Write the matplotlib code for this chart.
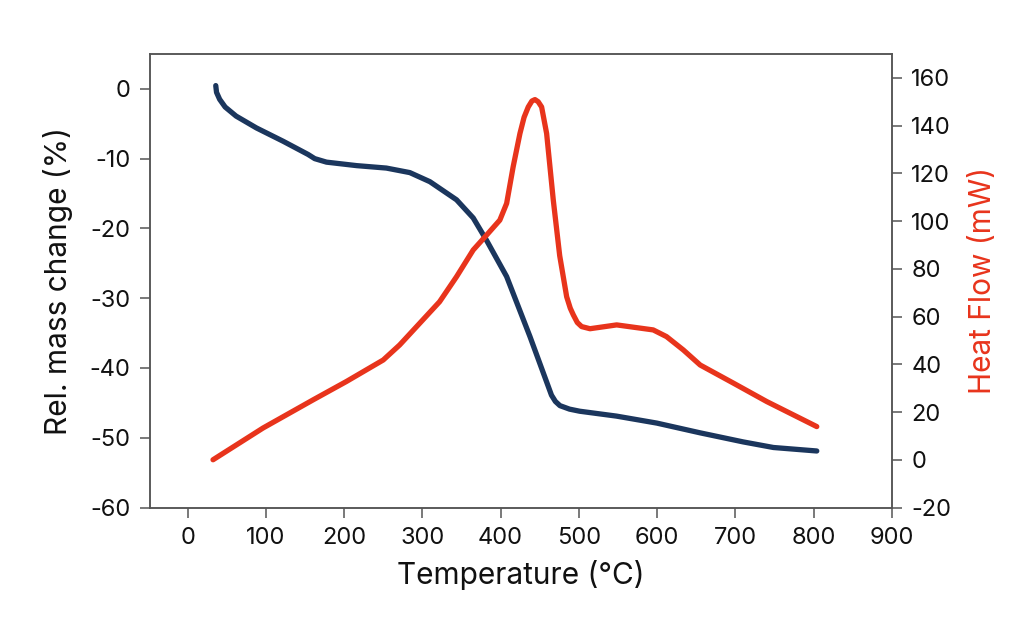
import matplotlib
matplotlib.use("Agg")
import matplotlib.pyplot as plt

plt.rcParams['font.family'] = ['Inter', 'DejaVu Sans']
plt.rcParams['axes.unicode_minus'] = False

# Mass change (TGA) curve
mass_temp = [36, 37, 41, 48, 62, 88, 122, 154, 162.5, 177.5, 216, 254, 284, 309.6, 343.7, 365,
             382, 407.7, 437.5, 465, 470, 475.8, 488, 501, 548, 599.5, 655, 710, 748.6, 804]
mass_change = [0.47, -0.5, -1.5, -2.6, -3.9, -5.6, -7.5, -9.4, -10.0, -10.5, -11.0, -11.35,
               -12.0, -13.3, -15.9, -18.5, -21.7, -26.9, -35.5, -43.9, -44.8, -45.4, -45.9,
               -46.2, -46.9, -47.9, -49.3, -50.6, -51.4, -51.9]

# Heat flow (DSC) curve
heat_temp = [32.5, 96.4, 160.4, 203, 250, 271, 322, 343.7, 365, 382, 399, 407.7, 416,
             424.7, 430, 435.3, 440, 443.9, 448, 452.4, 458.8, 467.3, 475.5, 484.4, 489,
             492.9, 498, 503.5, 514.2, 548.3, 595, 612, 633.5, 655, 697.5, 740, 804]
heat_flow = [0, 13.3, 25.1, 32.8, 41.8, 48.1, 66.2, 76.7, 87.9, 94.1, 100.4, 107.4, 122.7,
             136.7, 143.5, 147.8, 150.3, 150.9, 150.0, 147.8, 136.7, 108.8, 85.5, 68.3, 63.5,
             60.7, 57.5, 55.8, 54.9, 56.5, 54.4, 51.6, 46.0, 39.7, 32.1, 24.4, 13.9]

x_ticks = [0, 100, 200, 300, 400, 500, 600, 700, 800, 900]
left_ticks = [0, -10, -20, -30, -40, -50, -60]
right_ticks = [160, 140, 120, 100, 80, 60, 40, 20, 0, -20]

NAVY = '#1b365d'
RED = '#e8341c'
SPINE = '#555555'

fig = plt.figure(figsize=(10.24, 6.42), dpi=100)
ax = fig.add_axes([0.1465, 0.2095, 0.7245, 0.7064])
ax2 = ax.twinx()

ax.plot(mass_temp, mass_change, color=NAVY, lw=3.8, solid_capstyle='round',
        solid_joinstyle='round', zorder=3)
ax2.plot(heat_temp, heat_flow, color=RED, lw=3.8, solid_capstyle='round',
         solid_joinstyle='round', zorder=3)

ax.set_xlim(-48, 900)
ax.set_ylim(-60, 5)
ax2.set_ylim(-20, 170)
ax.set_xticks(x_ticks)
ax.set_yticks(left_ticks)
ax2.set_yticks(right_ticks)

for a in (ax, ax2):
    for s in a.spines.values():
        s.set_color(SPINE)
        s.set_linewidth(1.1)
    a.tick_params(axis='both', direction='out', length=7, width=1.1, color=SPINE,
                  labelsize=17, labelcolor='#111111', pad=7)

ax.set_xlabel('Temperature (°C)', fontsize=21.5, color='#111111', labelpad=8)
ax.set_ylabel('Rel. mass change (%)', fontsize=21.5, color='#111111', labelpad=12)
ax2.set_ylabel('Heat Flow (mW)', fontsize=21.5, color=RED, labelpad=13)

fig.savefig('out.png', dpi=100, facecolor='white')
